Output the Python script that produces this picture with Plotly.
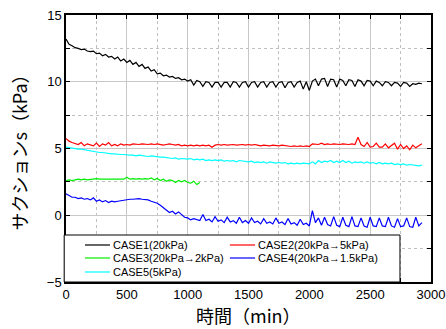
import plotly.graph_objects as go

STEP = 25  # sampling interval of the record (min)

case1 = [13.2, 12.8, 12.7, 12.55, 12.5, 12.4, 12.45, 12.3, 12.25, 12.3, 12.1, 12.15, 11.95, 12.05, 11.85, 11.9,
         11.7, 11.85, 11.55, 11.7, 11.45, 11.6, 11.3, 11.45, 11.15, 11.3, 11.0, 11.1, 10.8, 10.9, 10.6, 10.65,
         10.45, 10.5, 10.35, 10.4, 10.25, 10.3, 10.15, 10.2, 10.05,
         10.15, 9.75, 10.1, 10.0, 9.65, 10.0, 9.95, 9.6, 9.95, 9.95, 9.6, 9.95, 9.95, 9.6, 10.0, 9.95, 9.6,
         9.95, 10.0, 9.6, 9.95, 10.0, 9.6, 9.95, 10.0, 9.6, 9.95, 10.0, 9.6, 9.95, 10.0, 9.55, 9.95, 10.0, 9.6,
         9.95, 10.05, 9.45, 10.0, 9.35, 10.05, 10.2, 9.7, 10.2, 10.25, 9.65, 10.2, 10.15, 9.6, 10.2, 10.1, 9.7,
         10.15, 10.1, 9.65, 10.15, 10.05, 9.7, 10.1, 10.05, 9.7, 10.05, 9.95, 9.7, 10.0, 9.95, 9.7, 9.95, 9.9,
         9.65, 9.95, 9.9, 9.65, 9.85, 9.8, 9.9, 9.85]

case2 = [5.75, 5.55, 5.45, 5.35, 5.3, 5.45, 5.2, 5.35, 5.3, 5.2, 5.4, 5.15, 5.35, 5.25, 5.45, 5.2, 5.3, 5.2,
         5.35, 5.25, 5.3, 5.25, 5.35, 5.3, 5.3, 5.35, 5.3, 5.3, 5.35, 5.3, 5.35, 5.3, 5.25, 5.3, 5.35, 5.3,
         5.25, 5.3, 5.2, 5.25, 5.2, 5.25, 5.2, 5.25, 5.2, 5.25, 5.2, 5.25, 5.1, 5.25, 5.3, 5.25, 5.3, 5.25,
         5.3, 5.3, 5.25, 5.3, 5.3, 5.25, 5.3, 5.25, 5.3, 5.25, 5.2, 5.25, 5.2, 5.2, 5.25, 5.2, 5.2, 5.25,
         5.2, 5.2, 5.15, 5.2, 5.15, 5.2, 5.15, 5.2, 5.15, 5.35, 5.3, 5.3, 5.4, 5.3, 5.35, 5.3, 5.35, 5.3,
         5.3, 5.35, 5.3, 5.3, 5.35, 5.3, 5.85, 5.3, 5.15, 5.45, 5.1, 5.15, 5.4, 5.1, 5.1, 5.35, 5.05, 5.2,
         5.4, 4.95, 5.3, 5.0, 5.2, 4.9, 5.25, 5.05, 5.2, 5.35]

case3 = [2.6, 2.65, 2.6, 2.65, 2.7, 2.65, 2.7, 2.65, 2.7, 2.7, 2.75, 2.7, 2.7, 2.75, 2.7, 2.75, 2.7, 2.75,
         2.75, 2.7, 2.85, 2.7, 2.75, 2.7, 2.75, 2.7, 2.75, 2.7, 2.8, 2.65, 2.75, 2.6, 2.7, 2.55, 2.65, 2.6,
         2.45, 2.6, 2.5, 2.6, 2.45, 2.4, 2.55, 2.3, 2.45]

case4 = [1.6, 1.45, 1.35, 1.35, 1.25, 1.3, 1.2, 1.25, 1.15, 1.3, 1.05, 1.15, 1.0, 1.1, 0.95, 1.05, 1.0, 1.05,
         1.1, 1.1, 1.15, 1.2, 1.2, 1.25, 1.25, 1.2, 1.2, 1.15, 1.05, 1.0, 0.9, 0.75, 0.55, 0.35, 0.2, 0.3,
         0.1, 0.25, 0.05, -0.15, -0.2, -0.35, -0.25, -0.3, -0.4, 0.05, -0.4, -0.3, -0.5, -0.1, -0.45, -0.35,
         -0.55, -0.15, -0.5, -0.4, -0.6, -0.15, -0.55, -0.4, -0.6, -0.2, -0.55, -0.45, -0.65, -0.25, -0.6,
         -0.5, -0.65, -0.2, -0.6, -0.5, -0.7, -0.25, -0.65, -0.55, -0.75, -0.3, -0.7, -0.6, -0.8, 0.35, -0.55,
         -0.2, -0.75, -0.15, -0.7, -0.8, -0.1, -0.75, -0.85, -0.15, -0.75, -0.85, -0.1, -0.8, -0.85, -0.2,
         -0.8, -0.9, -0.15, -0.8, -0.85, -0.2, -0.8, -0.85, -0.15, -0.8, -0.9, -0.25, -0.85, -0.8, -0.2,
         -0.85, -0.9, -0.15, -0.8, -0.55]

case5 = [5.1, 5.05, 5.05, 5.0, 4.95, 4.95, 4.9, 4.85, 4.8, 4.75, 4.75, 4.7, 4.7, 4.65, 4.65, 4.6, 4.6, 4.55,
         4.55, 4.55, 4.5, 4.5, 4.5, 4.45, 4.5, 4.45, 4.45, 4.4, 4.45, 4.4, 4.4, 4.35, 4.35, 4.3, 4.3, 4.25,
         4.3, 4.2, 4.25, 4.2, 4.2, 4.25, 4.15, 4.2, 4.15, 4.2, 4.1, 4.15, 4.1, 4.15, 4.1, 4.15, 4.05, 4.1,
         4.05, 4.1, 4.0, 4.1, 4.05, 4.05, 4.0, 4.05, 3.95, 4.0, 3.95, 4.0, 3.9, 4.0, 3.95, 3.9, 3.95, 3.9,
         3.95, 3.85, 3.9, 3.85, 3.9, 3.85, 3.9, 3.85, 3.85, 4.0, 3.85, 4.1, 3.95, 4.05, 4.0, 4.1, 3.95, 4.05,
         3.95, 4.1, 3.95, 4.05, 3.9, 4.0, 3.95, 4.0, 3.9, 4.0, 3.9, 3.95, 3.85, 3.95, 3.85, 3.9, 3.85, 3.9,
         3.8, 3.85, 3.8, 3.85, 3.75, 3.8, 3.75, 3.75, 3.7, 3.75]

names = ["CASE1(20kPa)", "CASE2(20kPa→5kPa)", "CASE3(20kPa→2kPa)", "CASE4(20kPa→1.5kPa)", "CASE5(5kPa)"]
colors = ["#000000", "#ff0000", "#00ee00", "#0000ff", "#00ffff"]
series = [case1, case2, case3, case4, case5]

x_ticks = [0, 500, 1000, 1500, 2000, 2500, 3000]
y_ticks = [-5, 0, 5, 10, 15]

fig = go.Figure()
for name, col, ys in zip(names, colors, series):
    t = [i * STEP for i in range(len(ys))]
    fig.add_trace(go.Scatter(x=t, y=ys, mode="lines", name=name, showlegend=False,
                             line=dict(color=col, width=1.2)))

axis_common = dict(
    showline=True, linecolor="black", linewidth=1.5, mirror="ticks",
    ticks="inside", ticklen=4, tickcolor="black", tickwidth=1,
    showgrid=True, gridcolor="#c8c8c8", gridwidth=1, zeroline=False,
    automargin=False,
    tickfont=dict(family="Liberation Sans, Arial", size=13, color="black"),
)

# compact legend box (inside the plot, bottom-left), laid out in two columns
shapes = [dict(type="rect", xref="paper", yref="paper", x0=-0.005, x1=0.915, y0=0.0, y1=0.176,
               line=dict(color="black", width=1), fillcolor="white", layer="above")]
annotations = []
row_y = [0.1386, 0.0899, 0.0375]
col_line = [(0.052, 0.1205), (0.449, 0.518)]
for i, (name, col) in enumerate(zip(names, colors)):
    r, c = divmod(i, 2)
    x0, x1 = col_line[c]
    shapes.append(dict(type="line", xref="paper", yref="paper", x0=x0, x1=x1,
                       y0=row_y[r], y1=row_y[r], line=dict(color=col, width=1.2), layer="above"))
    annotations.append(dict(text=name, xref="paper", yref="paper", x=x1 + 0.002, y=row_y[r],
                            xanchor="left", yanchor="middle", showarrow=False,
                            font=dict(family="Liberation Sans, Arial", size=11, color="black")))

annotations += [
    dict(text="時間（min）", xref="paper", yref="paper", x=0.5, y=0, yshift=-48,
         xanchor="center", yanchor="bottom", showarrow=False,
         font=dict(family="Noto Sans CJK JP", size=18, color="black")),
    dict(text="サクションs（kPa）", xref="paper", yref="paper", x=0, y=0.5, xshift=-63,
         xanchor="left", yanchor="middle", textangle=-90, showarrow=False,
         font=dict(family="Noto Sans CJK JP", size=18, color="black")),
]

fig.update_layout(
    width=446, height=329,
    margin=dict(l=66, r=15, t=15, b=47),
    plot_bgcolor="white", paper_bgcolor="white",
    xaxis=dict(range=[0, 3000], tickvals=x_ticks,
               minor=dict(dtick=250, showgrid=True, griddash="dot", gridcolor="#c0c0c0",
                          ticks="inside", ticklen=4, tickcolor="black"),
               **axis_common),
    yaxis=dict(range=[-5, 15], tickvals=y_ticks,
               minor=dict(dtick=2.5, showgrid=True, griddash="dot", gridcolor="#c0c0c0",
                          ticks="inside", ticklen=4, tickcolor="black"),
               **axis_common),
    showlegend=False,
    shapes=shapes,
    annotations=annotations,
)

fig.write_html("out.html", config={"displayModeBar": False},
               post_script="document.body.style.margin='0';")
